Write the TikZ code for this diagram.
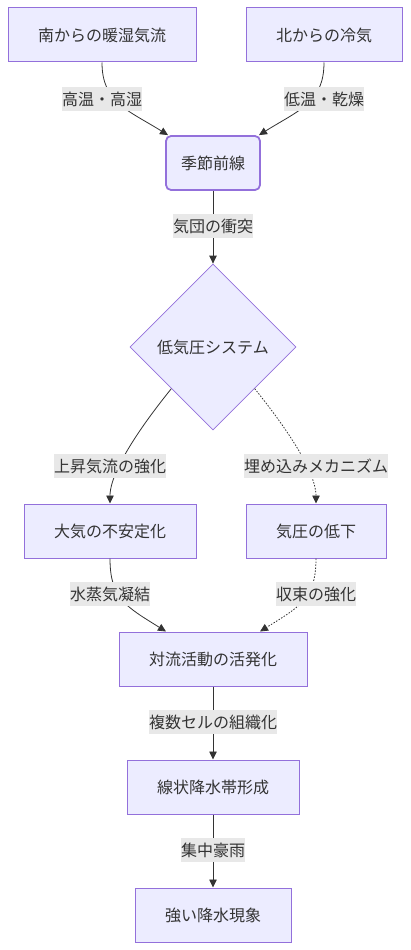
\documentclass[tikz,border=0pt]{standalone}
\usepackage{fontspec}
\setmainfont{Noto Sans CJK JP}
\usetikzlibrary{shapes.geometric,arrows.meta,calc}
\definecolor{nodefill}{HTML}{ECECFF}
\definecolor{nodeborder}{HTML}{9370DB}
\definecolor{labelbg}{HTML}{E8E8E8}
\definecolor{ink}{HTML}{333333}
\begin{document}
\begin{tikzpicture}[x=1pt,y=1pt,
  box/.style={draw=nodeborder, fill=nodefill, line width=1pt, minimum height=54pt, inner sep=0pt, text=ink, font=\fontsize{16pt}{19pt}\selectfont},
  dia/.style={diamond, aspect=1, draw=nodeborder, fill=nodefill, line width=0.8pt, minimum width=166pt, minimum height=166pt, inner sep=0pt, text=ink, font=\fontsize{16pt}{19pt}\selectfont},
  lbl/.style={fill=labelbg, text=ink, inner xsep=0pt, inner ysep=0pt, minimum height=24pt, font=\fontsize{16pt}{19pt}\selectfont},
  edge/.style={draw=ink, line width=0.8pt, -{Triangle[length=8pt,width=7.5pt]}},
  dotline/.style={dash pattern=on 1.5pt off 1.5pt}
]
\useasboundingbox (0,0) rectangle (410,-950);
\node[box, minimum width=188pt] (A) at (102,-35) {南からの暖湿気流};
\node[box, minimum width=156pt] (B) at (324,-35) {北からの冷気};
\node[box, rounded corners=5pt, line width=1.8pt, minimum width=94pt] (C) at (213,-163) {季節前線};
\node[dia] (D) at (213,-347) {低気圧システム};
\node[box, minimum width=172pt] (E) at (110,-531) {大気の不安定化};
\node[box, minimum width=140pt] (F) at (316,-531) {気圧の低下};
\node[box, minimum width=188pt] (G) at (213,-659) {対流活動の活発化};
\node[box, minimum width=172pt] (H) at (213,-787) {線状降水帯形成};
\node[box, minimum width=156pt] (I) at (213,-915) {強い降水現象};

\draw[edge] (A.south) .. controls +(0,-40) and +(-40,25) .. ($(C.north)+(-45,0)$);
\draw[edge] (B.south) .. controls +(0,-40) and +(40,25) .. ($(C.north)+(46,0)$);
\draw[edge] (C.south) -- (D.north);
\draw[edge] (D.south west) .. controls +(-50,-62) and +(0,22) .. (E.north);
\draw[edge,dotline] (D.south east) .. controls +(50,-62) and +(0,22) .. (F.north);
\draw[edge] (E.south) .. controls +(0,-40) and +(-40,25) .. ($(G.north)+(-47,0)$);
\draw[edge,dotline] (F.south) .. controls +(0,-40) and +(40,25) .. ($(G.north)+(47,0)$);
\draw[edge] (G.south) -- (H.north);
\draw[edge] (H.south) -- (I.north);

\node[lbl] (l1) at (102,-99) {高温・高湿};
\node[lbl] (l2) at (324,-99) {低温・乾燥};
\node[lbl] (l3) at (213,-226) {気団の衝突};
\node[lbl] (l4) at (110,-466) {上昇気流の強化};
\node[lbl] (l5) at (316,-466) {埋め込みメカニズム};
\node[lbl] (l6) at (110,-594) {水蒸気凝結};
\node[lbl] (l7) at (316,-594) {収束の強化};
\node[lbl] (l8) at (213,-722) {複数セルの組織化};
\node[lbl] (l9) at (213,-850) {集中豪雨};
\end{tikzpicture}
\end{document}
